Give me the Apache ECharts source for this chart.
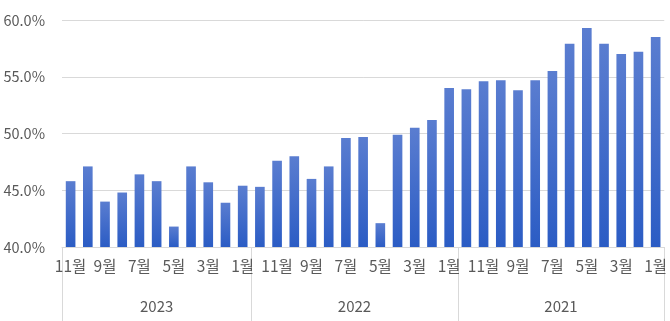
<!DOCTYPE html>
<html>
<head>
<meta charset="utf-8">
<script src="https://cdn.jsdelivr.net/npm/echarts@6/dist/echarts.min.js"></script>
<style>
html,body{margin:0;padding:0;background:#fff;overflow:hidden;}
#c{width:670px;height:321px;}
</style>
</head>
<body>
<div id="c"></div>
<script>
// Months (newest first), grouped by year
const months2023 = ['11월','10월','9월','8월','7월','6월','5월','4월','3월','2월','1월'];
const months2022 = ['12월','11월','10월','9월','8월','7월','6월','5월','4월','3월','2월','1월'];
const months2021 = ['12월','11월','10월','9월','8월','7월','6월','5월','4월','3월','2월','1월'];
const years = ['2023','2022','2021'];

const values2023 = [45.8, 47.1, 44.0, 44.8, 46.4, 45.8, 41.8, 47.1, 45.7, 43.9, 45.4];
const values2022 = [45.3, 47.6, 48.0, 46.0, 47.1, 49.6, 49.7, 42.1, 49.9, 50.5, 51.2, 54.0];
const values2021 = [53.9, 54.6, 54.7, 53.8, 54.7, 55.5, 57.9, 59.3, 57.9, 57.0, 57.2, 58.5];

const yTicks = [40, 45, 50, 55, 60];

const groups = [months2023, months2022, months2021];
const categories = [].concat(months2023, months2022, months2021);
const values = [].concat(values2023, values2022, values2021);
const n = categories.length;

// Year-level axis: half-step positions 0..n, year label at each group's center, ticks at group boundaries
const yearSlots = new Array(2 * n + 1).fill('');
const boundaryIdx = [0];
let start = 0;
groups.forEach((g, i) => {
  const mid = start * 2 + g.length;
  yearSlots[mid] = years[i];
  start += g.length;
  boundaryIdx.push(start * 2);
});

const chart = echarts.init(document.getElementById('c'), null, {renderer: 'canvas'});
const font = '"Noto Sans CJK KR", "Noto Sans", sans-serif';
chart.setOption({
  animation: false,
  grid: {left: 62, right: 0, top: 20, bottom: 74},
  xAxis: [
    {
      type: 'category',
      data: categories,
      axisLine: {show: true, lineStyle: {color: '#d9d9d9'}},
      axisTick: {show: false},
      axisLabel: {interval: 1, color: '#595959', fontSize: 15.5, fontFamily: font, margin: 11},
      splitLine: {show: false}
    },
    {
      type: 'category',
      position: 'bottom',
      boundaryGap: false,
      data: yearSlots,
      axisLine: {show: false},
      axisTick: {
        show: true,
        length: 76,
        interval: (idx) => boundaryIdx.indexOf(idx) >= 0,
        lineStyle: {color: '#d9d9d9'}
      },
      axisLabel: {
        interval: (idx, v) => v !== '',
        color: '#595959', fontSize: 15, fontFamily: font, margin: 52
      },
      splitLine: {show: false}
    }
  ],
  yAxis: {
    type: 'value',
    min: yTicks[0],
    max: yTicks[yTicks.length - 1],
    interval: 5,
    axisLine: {show: false},
    axisTick: {show: false},
    axisLabel: {color: '#595959', fontSize: 14.5, fontFamily: font, margin: 17,
      formatter: v => v.toFixed(1) + '%'},
    splitLine: {lineStyle: {color: '#d9d9d9'}}
  },
  series: [{
    type: 'bar',
    data: values,
    xAxisIndex: 0,
    barCategoryGap: '44%',
    itemStyle: {
      color: new echarts.graphic.LinearGradient(0, 0, 0, 1, [
        {offset: 0, color: '#5a7dd0'},
        {offset: 1, color: '#2b5cc4'}
      ])
    }
  }]
});
</script>
</body>
</html>
